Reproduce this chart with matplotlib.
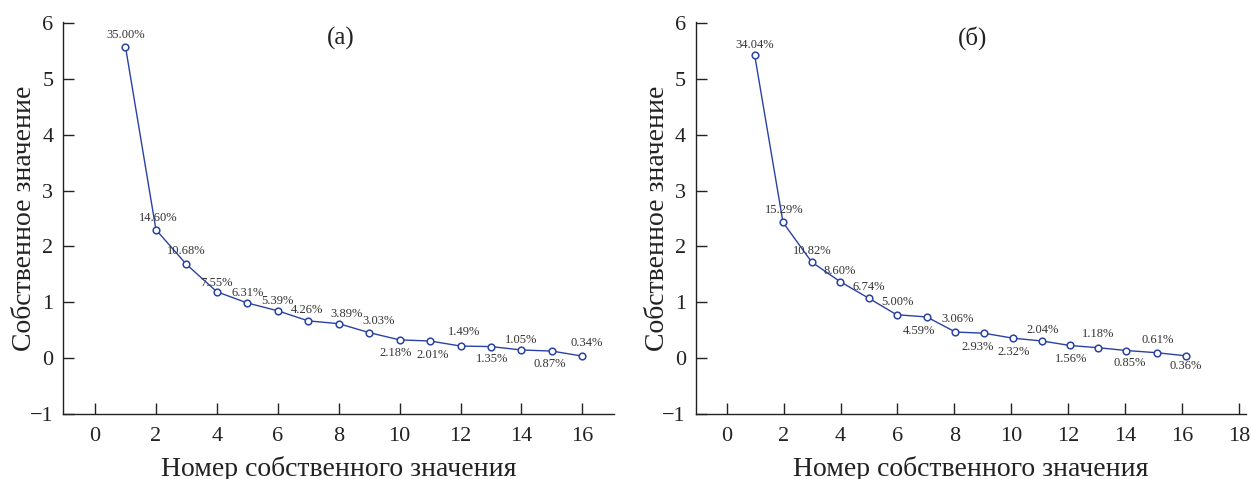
import matplotlib
matplotlib.use('Agg')
import matplotlib.pyplot as plt

plt.rcParams['font.family'] = ['Liberation Serif', 'DejaVu Serif']

# Data
components_a = list(range(1, 17))
components_b = [0.98, 1.98, 2.99, 3.99, 5.01, 5.97, 7.03, 8.04,
                9.03, 10.07, 11.09, 12.06, 13.06, 14.05, 15.13, 16.13]

eigen_a = [5.57, 2.30, 1.68, 1.19, 0.99, 0.85, 0.67, 0.62,
           0.46, 0.33, 0.31, 0.22, 0.21, 0.15, 0.13, 0.04]
pct_a = ['35.00%', '14.60%', '10.68%', '7.55%', '6.31%', '5.39%', '4.26%', '3.89%',
         '3.03%', '2.18%', '2.01%', '1.49%', '1.35%', '1.05%', '0.87%', '0.34%']

eigen_b = [5.43, 2.43, 1.72, 1.37, 1.07, 0.78, 0.74, 0.47,
           0.45, 0.36, 0.31, 0.23, 0.19, 0.14, 0.10, 0.045]
pct_b = ['34.04%', '15.29%', '10.82%', '8.60%', '6.74%', '5.00%', '4.59%', '3.06%',
         '2.93%', '2.32%', '2.04%', '1.56%', '1.18%', '0.85%', '0.61%', '0.36%']

# where each percent label sits relative to its point (pixels)
offsets_a = [(0, 12), (2, 12), (0, 13), (0, 9), (0, 10), (0, 10), (-1, 11), (8, 10),
             (9, 12), (-4, -13), (3, -14), (4, 14), (1, -12), (0, 10), (-2, -13), (4, 13)]
offsets_b = [(0, 10), (1, 12), (0, 11), (-1, 11), (-1, 11), (1, 13), (-8, -14), (2, 13),
             (-6, -14), (0, -14), (0, 11), (1, -14), (0, 14), (3, -12), (0, 13), (0, -10)]

LINE_COLOR = '#2a42a2'
TEXT_COLOR = '#333333'
AXIS_COLOR = '#222222'


def draw_panel(ax, xs, values, pcts, offsets, tag, xlim, xticks):
    ax.plot(xs, values, color=LINE_COLOR, lw=1.0, marker='o', ms=4.8,
            mfc='white', mec=LINE_COLOR, mew=1.1)

    for x, y, txt, (dx, dy) in zip(xs, values, pcts, offsets):
        ax.annotate(txt, (x, y), xytext=(dx, dy), textcoords='offset pixels',
                    ha='center', va='center', fontsize=9, color=TEXT_COLOR)

    ax.text(0.503, 0.958, tag, transform=ax.transAxes, ha='center', va='center',
            fontsize=18, color=AXIS_COLOR)

    ax.set_xlim(*xlim)
    ax.set_ylim(-1, 6.02)
    ax.set_xticks(xticks)
    ax.set_yticks(range(-1, 7))

    for side in ['top', 'right']:
        ax.spines[side].set_visible(False)
    for side in ['left', 'bottom']:
        ax.spines[side].set_linewidth(1.0)
        ax.spines[side].set_color(AXIS_COLOR)

    ax.tick_params(direction='in', length=8, width=1.0, labelsize=16,
                   colors=AXIS_COLOR)
    ax.tick_params(axis='x', pad=9)
    ax.tick_params(axis='y', pad=7)

    # the label sits right at the lower edge of the figure, as in the original
    ax.set_xlabel('Номер собственного значения', fontsize=20, color=AXIS_COLOR,
                  va='baseline')
    ax.xaxis.set_label_coords(0.5, -0.158)
    ax.set_ylabel('Собственное значение', fontsize=20, color=AXIS_COLOR)
    ax.yaxis.set_label_coords(-0.047, 0.5)


fig = plt.figure(figsize=(12.51, 4.79), dpi=100)
ax_a = fig.add_axes([0.0504, 0.1351, 0.4407, 0.8198])
ax_b = fig.add_axes([0.5561, 0.1351, 0.4399, 0.8198])

draw_panel(ax_a, components_a, eigen_a, pct_a, offsets_a, '(а)',
           (-1.05, 17.05), range(0, 17, 2))
draw_panel(ax_b, components_b, eigen_b, pct_b, offsets_b, '(б)',
           (-1.09, 18.25), range(0, 19, 2))

fig.savefig('out.png', dpi=100)
